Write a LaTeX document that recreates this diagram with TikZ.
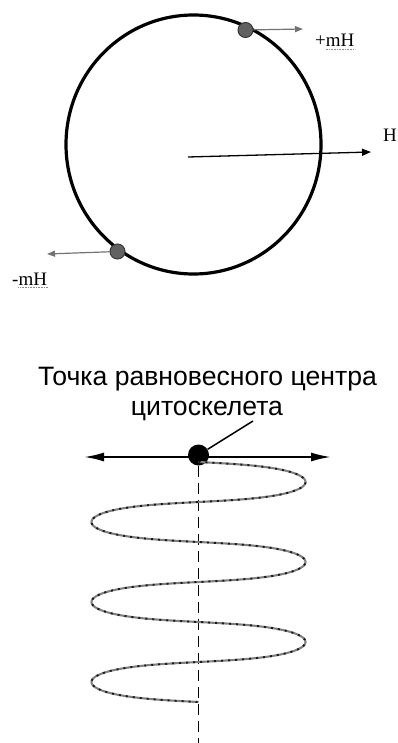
\documentclass[tikz,border=0pt]{standalone}
\usepackage{fontspec}
\setmainfont{Liberation Serif}
\newfontfamily\capsans{Liberation Sans}
\usetikzlibrary{arrows.meta, calc}

\begin{document}
\begin{tikzpicture}[x=1pt, y=-1pt,
    moment/.style={circle, draw=black!78, fill=black!62, line width=1pt, inner sep=0pt, minimum size=15pt},
    magarrow/.style={-{Triangle[length=8pt, width=6pt]}, draw=black!55, line width=1.2pt},
    maglabel/.style={inner sep=0pt, font=\fontsize{19}{19}\selectfont},
    spell/.style={draw=black!45, line width=0.7pt, dash pattern=on 0.8pt off 0.8pt},
    capline/.style={inner sep=0pt, anchor=base, font=\capsans\fontsize{26.6}{30}\selectfont},
    helix/.style={draw=black!50, line width=2.1pt, postaction={draw=black!90, line width=1.9pt, dash pattern=on 2pt off 5pt}}]
  \useasboundingbox (0,0) rectangle (398,743);

  % magnetisation circle
  \coordinate (ctr) at (193.5,144.5);
  \draw[line width=3.2pt] (ctr) ellipse [x radius=127.5, y radius=129.5];
  \node[moment] (plus) at (245.5,30) {};
  \node[moment] (minus) at (117.5,251.5) {};
  \coordinate (plustip) at (303,29);
  \coordinate (minustip) at (47,254);
  \draw[magarrow] (plus) -- (plustip);
  \draw[magarrow] (minus) -- (minustip);
  \coordinate (htip) at (371,152);
  \draw[-{Triangle[length=9pt, width=7pt]}, line width=1.3pt] (ctr) ++(-5.5,12.5) coordinate (htail) -- (htip);

  \node[maglabel, anchor=base west] (plusl) at (315,47) {+mH};
  \node[maglabel, anchor=base west] (minusl) at (12,285) {-mH};
  \node[maglabel, anchor=base west] (hl) at (383,142) {H};
  \draw[spell] ([xshift=10.8pt, yshift=-2.5pt]plusl.base west) -- ([yshift=-2.5pt]plusl.base east);
  \draw[spell] ([xshift=6.4pt, yshift=-2.5pt]minusl.base west) -- ([yshift=-2.5pt]minusl.base east);

  % cytoskeleton spiral
  \node[capline] (cap1) at (207.5,385) {Точка равновесного центра};
  \node[capline] (cap2) at (207,415) {цитоскелета};
  \node[circle, fill=black, inner sep=0pt, minimum size=21pt] (eq) at (198.5,455) {};
  \coordinate (axl) at (84,457);
  \coordinate (axr) at (331,457);
  \coordinate (axbot) at (198.5,743);
  \coordinate (leadend) at (253,421);
  \draw[line width=1.9pt, dash pattern=on 11pt off 6pt] (eq) -- (axbot);
  \draw[helix] plot[domain=0:1080, samples=400, variable=\t]
    ({198.5+107*sin(\t)}, {462+\t/4.5-3.65*sin(2*\t)});
  \draw[{Latex[length=20pt, width=9pt]}-{Latex[length=20pt, width=9pt]}, line width=2pt] (axl) -- (axr);
  \draw[line width=1.5pt] (eq) -- (leadend);
\end{tikzpicture}
\end{document}
